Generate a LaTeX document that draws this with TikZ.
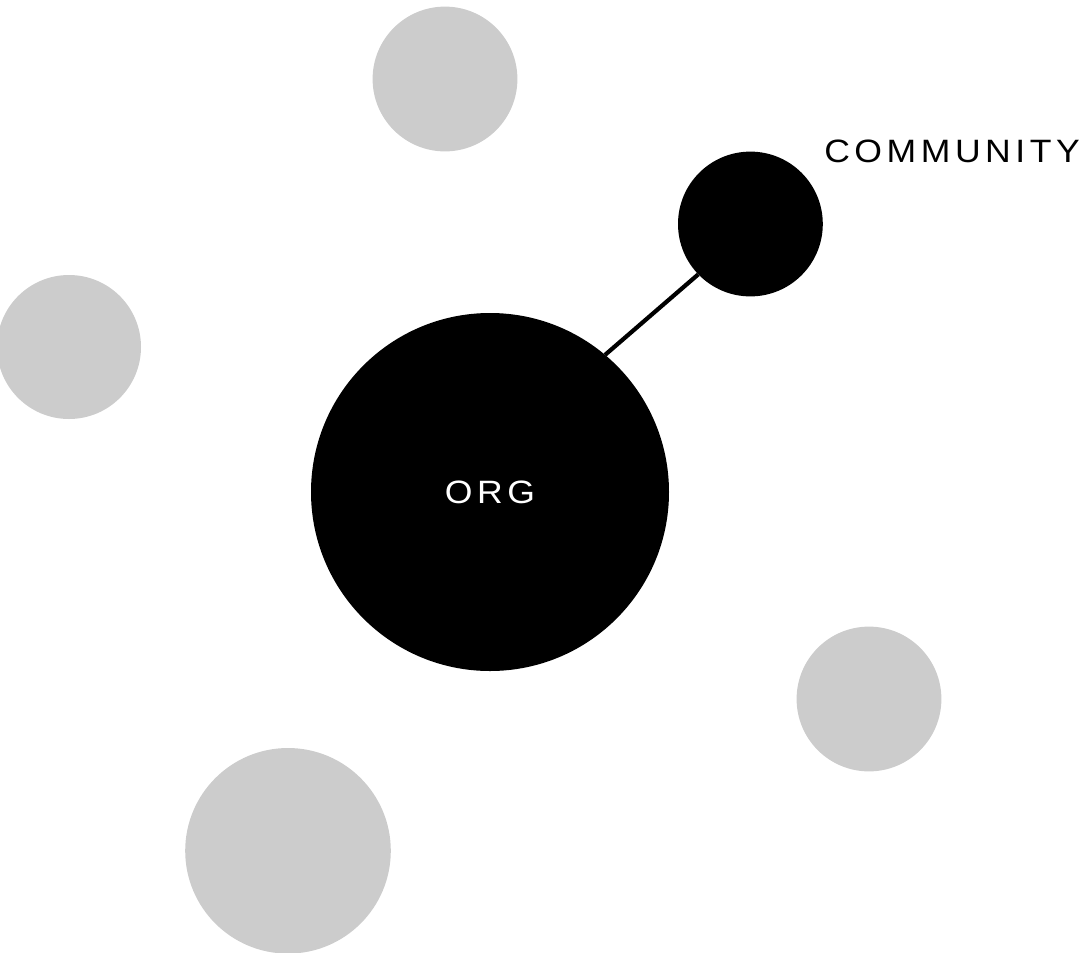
\documentclass[tikz,border=0pt]{standalone}
\usepackage{fontspec}
\newfontfamily\labelfont{Liberation Sans}[LetterSpace=14,FakeStretch=1.1]
\tikzset{
  kreis/.style={circle,inner sep=0pt,outer sep=0pt},
  grau/.style={kreis,fill=black!20},
  schwarz/.style={kreis,fill=black},
  schrift/.style={font=\labelfont\fontsize{23}{27}\selectfont},
}
\begin{document}
\begin{tikzpicture}
% Rahmen wie im Original, 1 px = 0.025 cm
\useasboundingbox (0,0) rectangle (27.15,-23.8);
\clip (0,0) rectangle (27.15,-23.8);
% graue Kreise ringsum
\node[grau,minimum size=3.62cm] (oben) at (11.125,-1.975) {};
\node[grau,minimum size=3.6cm] (links) at (1.725,-8.675) {};
\node[grau,minimum size=3.62cm] (rechts) at (21.725,-17.475) {};
\node[grau,minimum size=5.14cm] (unten) at (7.2,-21.27) {};
% Organisation und Community
\node[schwarz,schrift,minimum size=8.95cm,text=white] (org) at (12.25,-12.3) {ORG};
\node[schwarz,minimum size=3.62cm] (comm) at (18.76,-5.6) {};
\draw[line width=3pt] (org.50) -- (comm.224);
\node[schrift,anchor=base west,inner sep=0pt] (commtext) at (20.6,-4.05) {COMMUNITY};
\end{tikzpicture}
\end{document}
